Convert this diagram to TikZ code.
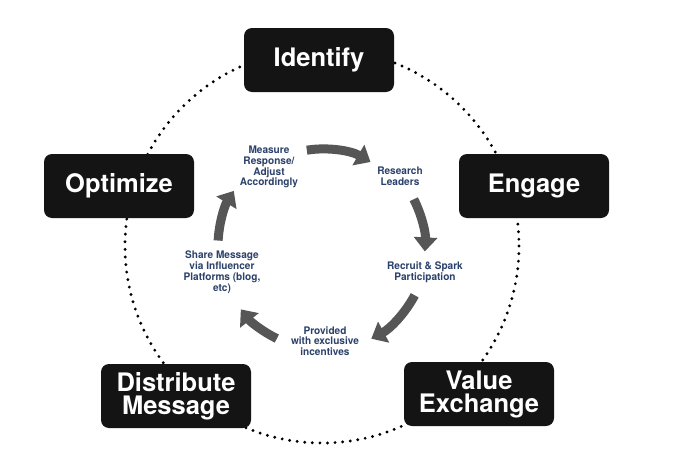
\documentclass[tikz,border=0pt]{standalone}
\usepackage{fontspec}
\setmainfont{TeX Gyre Heros}
\newfontfamily\boxfont{TeX Gyre Heros}
\newfontfamily\smallfont[FakeStretch=0.97]{TeX Gyre Heros}
\usetikzlibrary{arrows.meta,calc}
\definecolor{navy}{HTML}{2C416B}
\definecolor{arrowgray}{HTML}{565656}
\definecolor{boxblack}{HTML}{141414}
\begin{document}
\begin{tikzpicture}[x=1pt,y=-1pt,
  stage/.style={fill=boxblack, rounded corners=8pt, minimum width=150pt, minimum height=64pt,
    text=white, font=\boxfont\bfseries\fontsize{25.5}{23}\selectfont, align=center, inner sep=0pt},
  lbl/.style={text=navy, font=\smallfont\bfseries\fontsize{10.4}{10.8}\selectfont, align=center, inner sep=1pt},
  cyc/.style={draw=arrowgray, line width=9pt, -{Triangle[width=23pt,length=14pt]}},
  dots/.style={draw=black, line width=3.2pt, line cap=round, dash pattern=on 0pt off 7.6pt}
]
\useasboundingbox (0,0) rectangle (678,455);
\fill[white] (0,0) rectangle (678,455);
\coordinate (C) at (322,246);
\draw[dots] (C) circle[radius=197];
\node[stage] (identify) at (319,60) {Identify};
\node[stage] (optimize) at (119,186) {Optimize};
\node[stage] (engage) at (534,186) {Engage};
\node[stage] (distribute) at (176,396) {Distribute\\Message};
\node[stage] (value) at (479,394) {Value\\Exchange};

\node[lbl] (measure) at (269,167) {Measure\\Response/\\Adjust\\Accordingly};
\node[lbl] (research) at (400,176) {Research\\Leaders};
\node[lbl] (recruit) at (425,272) {Recruit \& Spark\\Participation};
\node[lbl] (provided) at (325,341) {Provided\\with exclusive\\incentives};
\node[lbl] (share) at (222,272) {Share Message\\via Influencer\\Platforms (blog,\\etc)};

\coordinate (s1) at ($(C)+(261:97)$);
\coordinate (s2) at ($(C)+(333:103)$);
\coordinate (s3) at ($(C)+(28:105)$);
\coordinate (s4) at ($(C)+(116:103)$);
\coordinate (s5) at ($(C)+(183:104)$);
\draw[cyc] (s1) arc[start angle=261, end angle=300, radius=97];
\draw[cyc] (s2) arc[start angle=333, end angle=363, radius=103];
\draw[cyc] (s3) arc[start angle=28, end angle=62, radius=105];
\draw[cyc] (s4) arc[start angle=116, end angle=142, radius=103];
\draw[cyc] (s5) arc[start angle=183, end angle=212, radius=104];
\end{tikzpicture}
\end{document}
